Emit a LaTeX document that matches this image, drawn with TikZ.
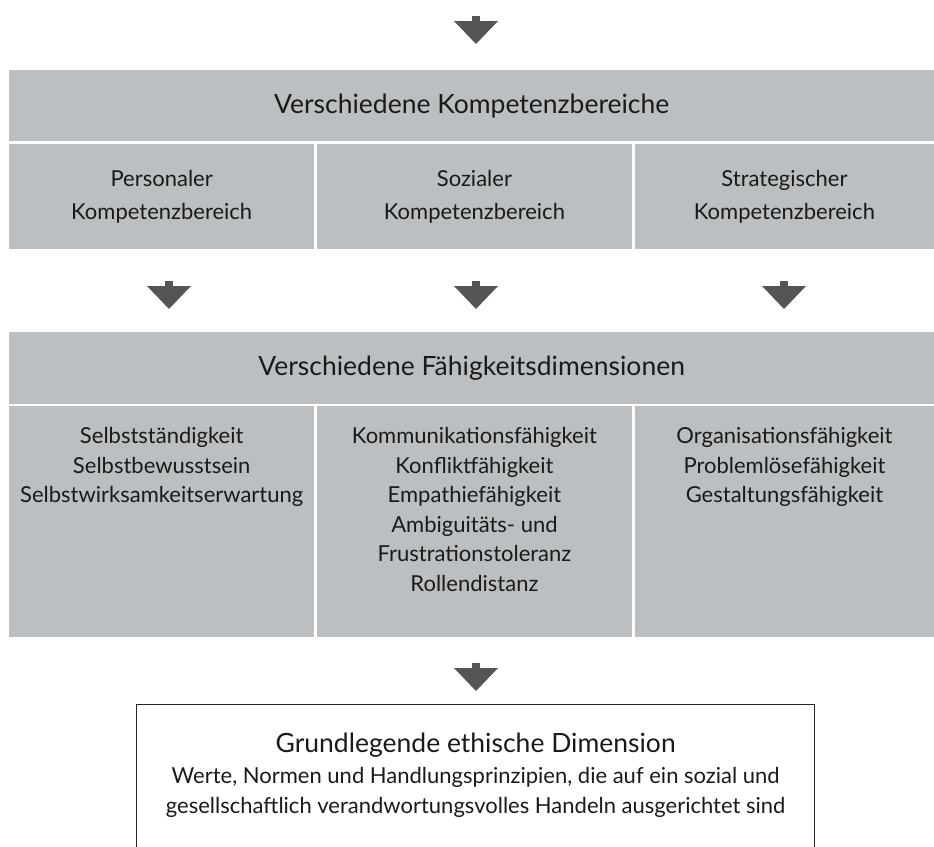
\documentclass[tikz,border=0pt]{standalone}
\usepackage{fontspec}
\setmainfont{Lato}
\definecolor{bandgray}{RGB}{187,191,193}
\definecolor{arrowgray}{RGB}{85,85,85}
\definecolor{txt}{RGB}{26,26,26}
\begin{document}
\begin{tikzpicture}[x=1pt,y=-1pt,
  band/.style={fill=bandgray, draw=none, anchor=north west, inner sep=0pt, text=txt,
    font=\fontsize{26.5}{32}\selectfont},
  cell/.style={fill=bandgray, draw=none, anchor=north west, inner sep=0pt, text=txt,
    align=center, font=\fontsize{22}{33}\selectfont},
  celltext/.style={anchor=north, inner sep=0pt, text=txt, align=center,
    font=\fontsize{22}{29.6}\selectfont},
  downarr/.pic={
    \fill[arrowgray] (-4,0) rectangle (4,5.5);
    \fill[arrowgray] (-22,5) -- (22,5) -- (0,28) -- cycle;}
]
\useasboundingbox (0,0) rectangle (934,846);
\clip (0,0) rectangle (934,846);

% top arrow
\pic at (476,16) {downarr};

% band 1
\node[band, minimum width=925pt, minimum height=71pt] (h1) at (9,70) {Verschiedene Kompetenzbereiche};
\node[cell, minimum width=305pt, minimum height=105.5pt] (c11) at (9,143.5) {Personaler\\Kompetenzbereich};
\node[cell, minimum width=315.5pt, minimum height=105.5pt] (c12) at (316.5,143.5) {Sozialer\\Kompetenzbereich};
\node[cell, minimum width=299.5pt, minimum height=105.5pt] (c13) at (634.5,143.5) {Strategischer\\Kompetenzbereich};

% arrows row 2
\pic at (169,281) {downarr};
\pic at (476,281) {downarr};
\pic at (784,281) {downarr};

% band 2
\node[band, minimum width=925pt, minimum height=72pt] (h2) at (9,332) {Verschiedene Fähigkeitsdimensionen};
\node[cell, minimum width=305pt, minimum height=231pt] (c21) at (9,406) {};
\node[cell, minimum width=315.5pt, minimum height=231pt] (c22) at (316.5,406) {};
\node[cell, minimum width=299.5pt, minimum height=231pt] (c23) at (634.5,406) {};
\node[celltext] (t21) at ([yshift=-21pt]c21.north) {Selbstständigkeit\\Selbstbewusstsein\\Selbstwirksamkeitserwartung};
\node[celltext] (t22) at ([yshift=-21pt]c22.north) {Kommunikationsfähigkeit\\Konfliktfähigkeit\\Empathiefähigkeit\\Ambiguitäts- und\\Frustrationstoleranz\\Rollendistanz};
\node[celltext] (t23) at ([yshift=-21pt]c23.north) {Organisationsfähigkeit\\Problemlösefähigkeit\\Gestaltungsfähigkeit};

% arrow row 3
\pic at (476,663) {downarr};

% bottom box
\node[draw=black!85, line width=1.3pt, anchor=north west, minimum width=678pt, minimum height=200pt, inner sep=0pt] (b) at (136,704) {};
\node[anchor=north, inner sep=0pt, text=txt, font=\fontsize{26.5}{32}\selectfont] (bt) at ([yshift=-29pt]b.north) {Grundlegende ethische Dimension};
\node[anchor=north, inner sep=0pt, text=txt, align=center, font=\fontsize{22}{29.6}\selectfont] (bd) at ([yshift=-63pt]b.north) {Werte, Normen und Handlungsprinzipien, die auf ein sozial und\\gesellschaftlich verandwortungsvolles Handeln ausgerichtet sind};
\end{tikzpicture}
\end{document}
